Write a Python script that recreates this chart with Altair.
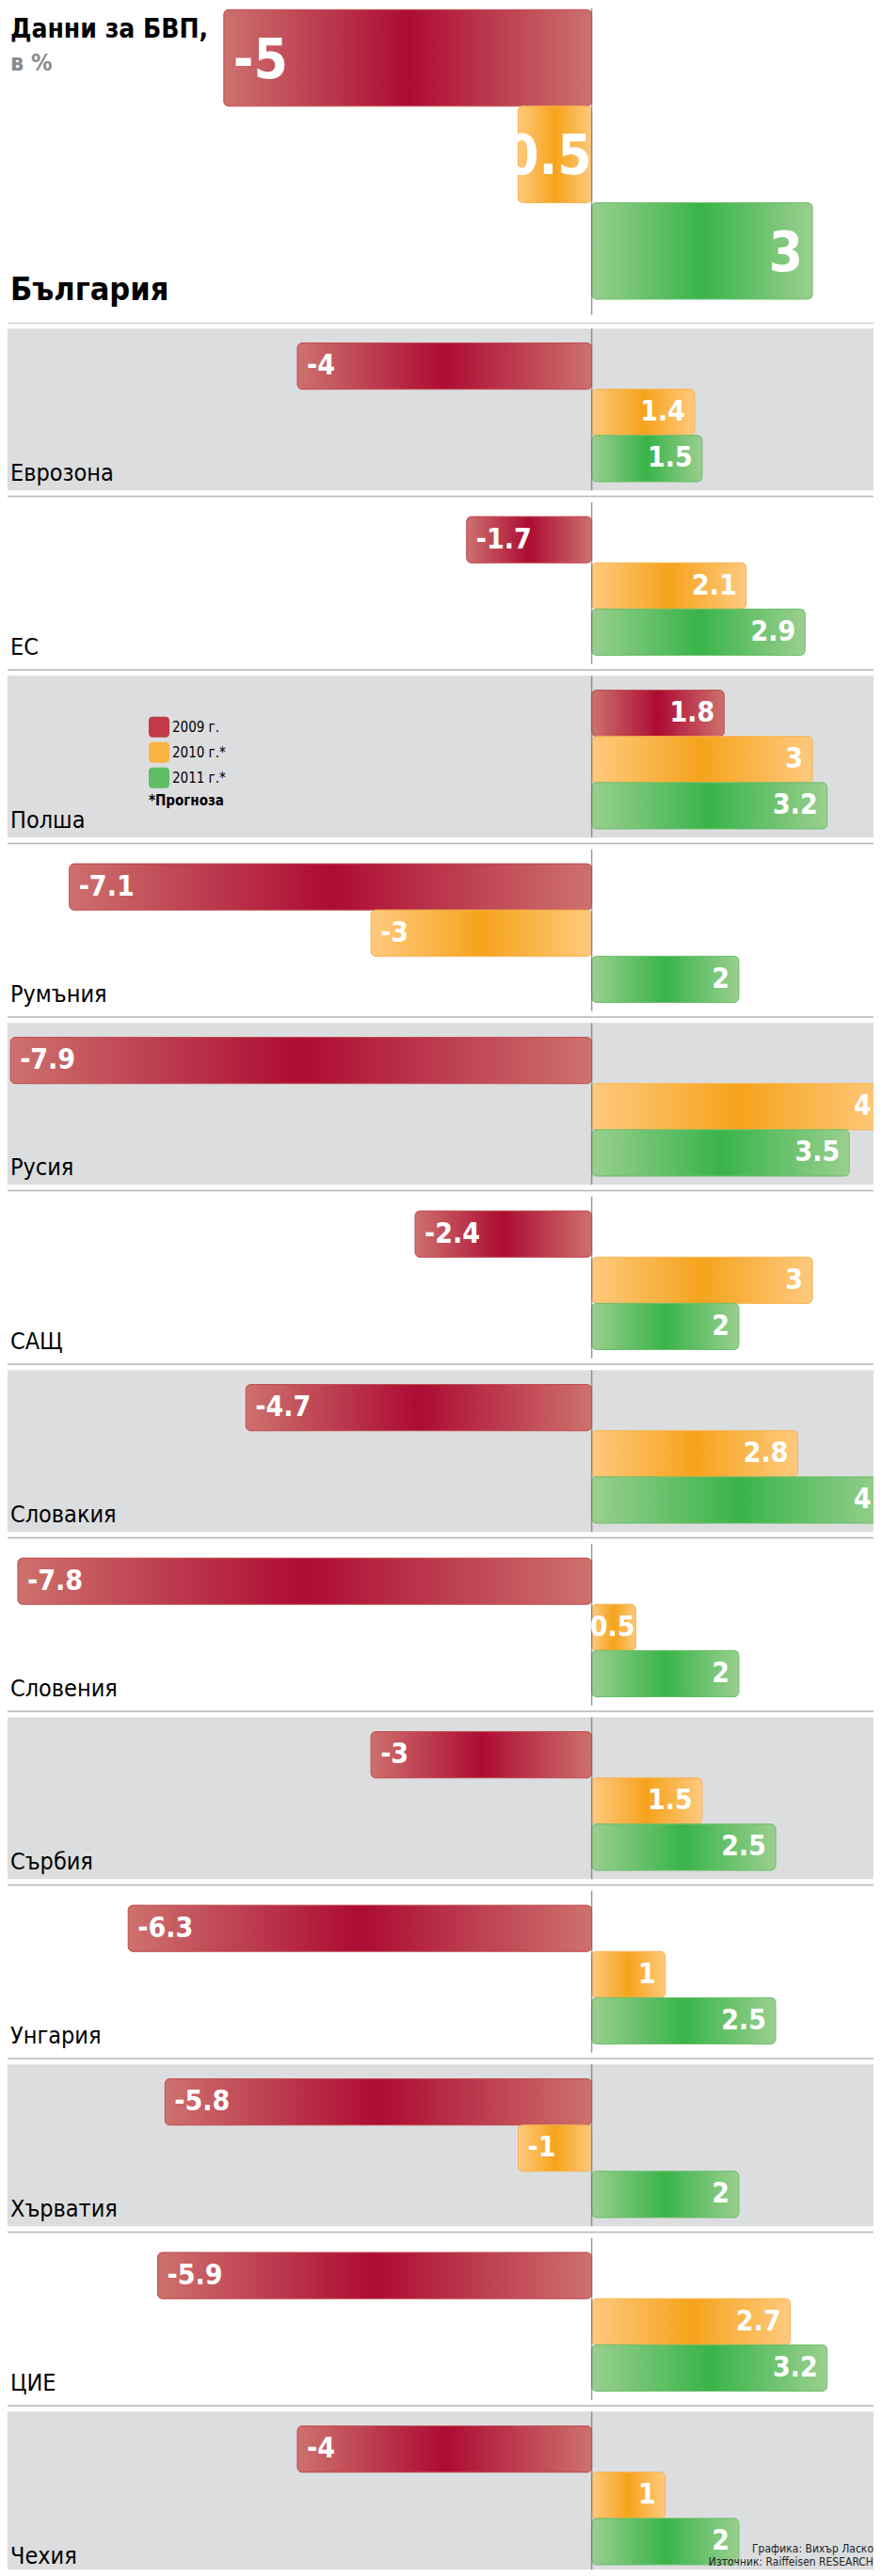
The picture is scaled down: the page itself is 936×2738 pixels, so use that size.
import altair as alt
import pandas as pd

# ---------------- data ----------------
countries = ["Еврозона", "ЕС", "Полша", "Румъния", "Русия", "САЩ", "Словакия",
             "Словения", "Сърбия", "Унгария", "Хърватия", "ЦИЕ", "Чехия"]
gdp_2009 = [-4, -1.7, 1.8, -7.1, -7.9, -2.4, -4.7, -7.8, -3, -6.3, -5.8, -5.9, -4]
gdp_2010 = [1.4, 2.1, 3, -3, 4, 3, 2.8, 0.5, 1.5, 1, -1, 2.7, 1]
gdp_2011 = [1.5, 2.9, 3.2, 2, 3.5, 2, 4, 2, 2.5, 2.5, 2, 3.2, 2]

bg_country = "България"
bg_values = [-5, -0.5, 3]

years = ["2009 г.", "2010 г.*", "2011 г.*"]
title_text = "Данни за БВП,"
subtitle_text = "в %"
legend_note = "*Прогноза"
credits = ["Графика: Вихър Ласко", "Източник: Raiffeisen RESEARCH"]

# ---------------- styling ----------------
FONT = "DejaVu Sans Condensed, DejaVu Sans, sans-serif"
W = 920
BG_H = 333.7
ROW = 184.5
ROWS_H = 2388.3
X_DOMAIN = [-7.94, 3.83]
LABEL_MAX = 3.93
MIN_BAR_BG = 1.0     # bars stretched so that the big labels fit
MIN_BAR_ROWS = 0.6
SHORT_BAR = 0.9      # short positive bars: label hugs the bar end

EDGE = ["#CD716D", "#FEC97E", "#9ACF8F"]
MID = ["#AD0B33", "#F6A31B", "#38B449"]
STROKE = ["#C0484C", "#F6B24E", "#6BBE69"]
LEGEND_COLORS = ["#C23A45", "#F9B444", "#5DBE63"]
GRAY = "#DCDDDF"


def fmt(v):
    return f"{v:g}"


rows = []
for ci, c in enumerate(countries):
    for yi, vals in enumerate([gdp_2009, gdp_2010, gdp_2011]):
        rows.append({"country": c, "year": years[yi], "value": vals[ci],
                     "label": fmt(vals[ci])})
rows_df = pd.DataFrame(rows)
bands_df = pd.DataFrame({"country": countries,
                         "shade": [1 - (i % 2) for i in range(len(countries))]})

bg_df = pd.DataFrame({"country": [bg_country] * 3, "year": years,
                      "value": bg_values, "label": [fmt(v) for v in bg_values]})


def grad(i):
    return alt.Gradient(
        gradient="linear", x1=0, x2=1, y1=0, y2=0,
        stops=[alt.GradientStop(color=EDGE[i], offset=0),
               alt.GradientStop(color=MID[i], offset=0.5),
               alt.GradientStop(color=EDGE[i], offset=1)])


xscale = alt.Scale(domain=X_DOMAIN, nice=False, zero=False)

# ---------------- Bulgaria panel ----------------
y_bg = alt.Y("country:N", scale=alt.Scale(domain=[bg_country], paddingInner=0, paddingOuter=0), axis=None)
yo_bg = alt.YOffset("year:N", sort=years,
                    scale=alt.Scale(domain=years, paddingInner=0, paddingOuter=0.1267, align=0.05))

bg_base = alt.Chart(bg_df).transform_calculate(
    bar_v=f"datum.value < 0 ? min(datum.value, -{MIN_BAR_BG}) : max(datum.value, {MIN_BAR_BG})"
)

bg_layers = []
for i, yr in enumerate(years):
    bg_layers.append(
        bg_base.transform_filter(alt.datum.year == yr)
        .mark_bar(fill=grad(i), stroke=STROKE[i], strokeWidth=1, cornerRadius=5)
        .encode(x=alt.X("bar_v:Q", scale=xscale, axis=None), x2=alt.X2Datum(0), y=y_bg, yOffset=yo_bg)
    )

big_txt = dict(font=FONT, fontSize=58, fontWeight="bold", color="white", baseline="alphabetic", dy=21)
bg_layers.append(
    bg_base.transform_filter(alt.datum.value <= -MIN_BAR_BG)
    .mark_text(align="left", dx=10, **big_txt)
    .encode(x=alt.X("bar_v:Q", scale=xscale), y=y_bg, yOffset=yo_bg, text="label:N")
)
bg_layers.append(
    bg_base.transform_filter((alt.datum.value < 0) & (alt.datum.value > -MIN_BAR_BG))
    .mark_text(align="right", dx=0, **big_txt)
    .encode(x=alt.XDatum(0), y=y_bg, yOffset=yo_bg, text="label:N")
)
bg_layers.append(
    bg_base.transform_filter(alt.datum.value > 0)
    .mark_text(align="right", dx=-10, **big_txt)
    .encode(x=alt.X("bar_v:Q", scale=xscale), y=y_bg, yOffset=yo_bg, text="label:N")
)
bg_layers.append(
    alt.Chart(pd.DataFrame({"country": [bg_country]}))
    .mark_tick(color="#6D6E71", thickness=1.5, size=326, yOffset=-4)
    .encode(x=alt.XDatum(0), y=y_bg)
)
bg_layers.append(
    alt.Chart(pd.DataFrame({"t": [title_text]}))
    .mark_text(font=FONT, fontSize=28, fontWeight="bold", color="#000000", align="left", baseline="alphabetic")
    .encode(x=alt.value(3), y=alt.value(31), text="t:N")
)
bg_layers.append(
    alt.Chart(pd.DataFrame({"t": [subtitle_text]}))
    .mark_text(font=FONT, fontSize=25, fontWeight="bold", color="#8A8B8D", align="left", baseline="alphabetic")
    .encode(x=alt.value(3), y=alt.value(66), text="t:N")
)
bg_layers.append(
    alt.Chart(pd.DataFrame({"t": [bg_country]}))
    .mark_text(font=FONT, fontSize=34, fontWeight="bold", color="#000000", align="left", baseline="alphabetic")
    .encode(x=alt.value(3), y=alt.value(310), text="t:N")
)

bg_chart = alt.layer(*bg_layers).properties(width=W, height=BG_H)

# ---------------- country rows ----------------
yscale = alt.Scale(domain=countries, range=[0, ROW * len(countries)], paddingInner=0, paddingOuter=0)
y_rows = alt.Y("country:N", sort=countries, scale=yscale, axis=None)
y_rows_top = alt.Y("country:N", sort=countries, scale=yscale, axis=None, bandPosition=0)
yo_rows = alt.YOffset("year:N", sort=years,
                      scale=alt.Scale(domain=years, paddingInner=0, paddingOuter=0.3776, align=0.582))

layers = []
layers.append(
    alt.Chart(bands_df).transform_filter(alt.datum.shade == 1)
    .mark_rect(color=GRAY, height={"band": 172 / ROW}, clip=True)
    .encode(y=y_rows)
)
layers.append(
    alt.Chart(bands_df).mark_rule(color="#B5B5B5", strokeWidth=1.5, clip=True).encode(y=y_rows_top)
)

base = alt.Chart(rows_df).transform_calculate(
    bar_v=f"datum.value < 0 ? min(datum.value, -{MIN_BAR_ROWS}) : max(datum.value, {MIN_BAR_ROWS})"
).transform_calculate(
    lab_x=f"min(datum.bar_v, {LABEL_MAX})"
)
for i, yr in enumerate(years):
    layers.append(
        base.transform_filter(alt.datum.year == yr)
        .mark_bar(fill=grad(i), stroke=STROKE[i], strokeWidth=1, cornerRadius=5, clip=True)
        .encode(x=alt.X("bar_v:Q", scale=xscale, axis=None), x2=alt.X2Datum(0), y=y_rows, yOffset=yo_rows)
    )

layers.append(
    alt.Chart(bands_df).mark_tick(color="#6D6E71", thickness=1.5, size=172, clip=True)
    .encode(x=alt.XDatum(0), y=y_rows)
)

lab = dict(font=FONT, fontSize=30, fontWeight="bold", color="white", baseline="alphabetic", dy=9, clip=True)
layers.append(
    base.transform_filter(alt.datum.value < 0)
    .mark_text(align="left", dx=10, **lab)
    .encode(x=alt.X("lab_x:Q", scale=xscale), y=y_rows, yOffset=yo_rows, text="label:N")
)
layers.append(
    base.transform_filter(alt.datum.value >= SHORT_BAR)
    .mark_text(align="right", dx=-10, **lab)
    .encode(x=alt.X("lab_x:Q", scale=xscale), y=y_rows, yOffset=yo_rows, text="label:N")
)
layers.append(
    base.transform_filter((alt.datum.value >= 0) & (alt.datum.value < SHORT_BAR))
    .mark_text(align="right", dx=-1, **lab)
    .encode(x=alt.X("lab_x:Q", scale=xscale), y=y_rows, yOffset=yo_rows, text="label:N")
)
layers.append(
    alt.Chart(bands_df)
    .mark_text(font=FONT, fontSize=25, color="#000000", align="left", baseline="alphabetic", dy=76, clip=True)
    .encode(x=alt.value(3), y=y_rows, text="country:N")
)

ROUND_SQ = ("M -1 -0.6 Q -1 -1 -0.6 -1 L 0.6 -1 Q 1 -1 1 -0.6 L 1 0.6 Q 1 1 0.6 1 "
            "L -0.6 1 Q -1 1 -1 0.6 Z")
layers.append(
    alt.Chart(rows_df).mark_square(opacity=0, clip=True)
    .encode(
        x=alt.X("value:Q", scale=xscale), y=y_rows, yOffset=yo_rows,
        color=alt.Color("year:N", sort=years,
                        scale=alt.Scale(domain=years, range=LEGEND_COLORS),
                        legend=alt.Legend(
                            orient="none", legendX=150, legendY=752.7, padding=0,
                            title=legend_note, titleOrient="bottom", titleAnchor="start",
                            titleFont=FONT, titleFontSize=15, titleFontWeight="bold",
                            titleColor="#000000", titlePadding=6,
                            labelFont=FONT, labelFontSize=15, labelColor="#000000", labelOffset=3,
                            symbolType=ROUND_SQ, symbolSize=484, symbolOpacity=1,
                            symbolStrokeWidth=0, rowPadding=5)),
    )
)
layers.append(
    alt.Chart(pd.DataFrame({"a": [0]}))
    .mark_text(text=credits, font=FONT, fontSize=12, lineHeight=14, color="#231F20",
               align="right", baseline="alphabetic", clip=True)
    .encode(x=alt.value(W), y=alt.value(2370))
)

rows_chart = alt.layer(*layers).properties(width=W, height=ROWS_H)

chart = (
    alt.vconcat(bg_chart, rows_chart, spacing=0)
    .resolve_scale(yOffset="independent", y="independent")
    .properties(padding=0, background="white")
    .configure_view(strokeWidth=0)
)

chart.save("out.html", embed_options={"renderer": "svg", "actions": False})
